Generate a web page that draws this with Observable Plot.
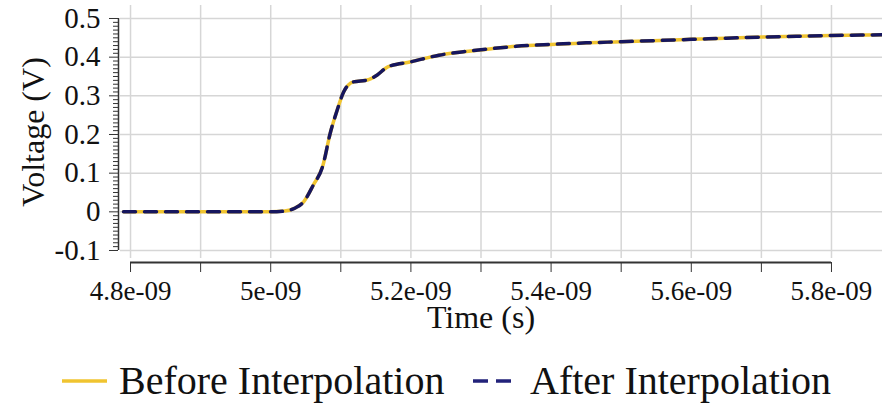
<!DOCTYPE html>
<html><head><meta charset="utf-8">
<script src="https://cdn.jsdelivr.net/npm/d3@7"></script>
<script src="https://cdn.jsdelivr.net/npm/@observablehq/plot@0.6"></script>
<style>
body{margin:0;background:#fff;font-family:"Liberation Serif","Tinos","Times New Roman","Times","DejaVu Serif","Noto Serif",serif;color:#111;}
#chart{width:882px;height:345px;}
#legend{width:882px;height:65px;position:relative;font-size:40px;}
.item{position:absolute;top:12px;display:flex;align-items:center;white-space:nowrap;}
.item svg{margin-right:12px;}
</style></head><body>
<div id="chart"></div>
<div id="legend"></div>
<script>
// Series (time in seconds, voltage in volts)
const timeAfter = [4.79e-9, 4.85e-9, 4.90e-9, 4.95e-9, 5.00e-9, 5.02e-9, 5.035e-9, 5.047e-9, 5.061e-9, 5.074e-9, 5.085e-9, 5.095e-9, 5.104e-9, 5.118e-9, 5.138e-9, 5.152e-9, 5.167e-9, 5.20e-9, 5.24e-9, 5.275e-9, 5.315e-9, 5.35e-9, 5.40e-9, 5.45e-9, 5.50e-9, 5.55e-9, 5.60e-9, 5.65e-9, 5.70e-9, 5.75e-9, 5.80e-9, 5.875e-9];
const voltAfter = [0, 0, 0, 0, 0, 0.002, 0.01, 0.026, 0.07, 0.117, 0.204, 0.264, 0.31, 0.336, 0.341, 0.354, 0.375, 0.388, 0.405, 0.414, 0.422, 0.428, 0.433, 0.437, 0.440, 0.443, 0.446, 0.449, 0.452, 0.454, 0.456, 0.458];
const timeBefore = [4.79e-9, 4.90e-9, 5.00e-9, 5.02e-9, 5.035e-9, 5.047e-9, 5.061e-9, 5.074e-9, 5.085e-9, 5.095e-9, 5.104e-9, 5.118e-9, 5.138e-9, 5.152e-9, 5.167e-9, 5.20e-9, 5.24e-9, 5.275e-9, 5.315e-9, 5.35e-9, 5.40e-9, 5.50e-9, 5.60e-9, 5.70e-9, 5.80e-9, 5.875e-9];
const voltBefore = [0, 0, 0, 0.002, 0.01, 0.026, 0.07, 0.117, 0.204, 0.264, 0.31, 0.336, 0.341, 0.354, 0.375, 0.388, 0.405, 0.414, 0.422, 0.428, 0.433, 0.440, 0.446, 0.452, 0.456, 0.458];

// Ticks and labels
const xTickValues = [4.8e-9, 5.0e-9, 5.2e-9, 5.4e-9, 5.6e-9, 5.8e-9];
const xTickLabels = ["4.8e-09", "5e-09", "5.2e-09", "5.4e-09", "5.6e-09", "5.8e-09"];
const xMinorValues = [4.9e-9, 5.1e-9, 5.3e-9, 5.5e-9, 5.7e-9];
const yTickValues = [-0.1, 0, 0.1, 0.2, 0.3, 0.4, 0.5];
const yTickLabels = ["-0.1", "0", "0.1", "0.2", "0.3", "0.4", "0.5"];
const seriesNames = ["Before Interpolation", "After Interpolation"];
const xTitle = "Time (s)";
const yTitle = "Voltage (V)";

const before = timeBefore.map((t, i) => ({t, v: voltBefore[i]}));
const after = timeAfter.map((t, i) => ({t, v: voltAfter[i]}));
const xTicks = xTickValues.map((v, i) => ({v, label: xTickLabels[i]}));
const yTicks = yTickValues.map((v, i) => ({v, label: yTickLabels[i]}));
const yMinor = d3.range(-10, 51).filter(k => k % 10 !== 0).map(k => k / 100);
const xGrid = [...xTickValues, ...xMinorValues];

const serif = "'Liberation Serif','Tinos','Times New Roman','Times','DejaVu Serif','Noto Serif',serif";
const axisColor = "#333";
const gridColor = "#d6d6d6";
const beforeColor = "#f0c430";
const afterColor = "#16165e";
const xDom = [4.7857e-9, 5.8728e-9];
const yDom = [-0.1207, 0.5336];

const chart = Plot.plot({
  width: 882, height: 345,
  marginLeft: 120, marginRight: 0, marginTop: 5, marginBottom: 87,
  style: {fontFamily: serif, color: "#111", background: "#fff"},
  x: {type: "linear", domain: xDom, axis: null},
  y: {domain: yDom, axis: null},
  marks: [
    Plot.gridX(xGrid, {stroke: gridColor, strokeOpacity: 1, strokeWidth: 1.5}),
    Plot.gridY(yTickValues, {stroke: gridColor, strokeOpacity: 1, strokeWidth: 1.5}),
    Plot.line(before, {x: "t", y: "v", stroke: beforeColor, strokeWidth: 3.5, curve: "monotone-x"}),
    Plot.line(after, {x: "t", y: "v", stroke: afterColor, strokeWidth: 3.5, strokeDasharray: "12,9", curve: "monotone-x"}),
    Plot.ruleX([xDom[0]], {y1: yTickValues[0], y2: yTickValues[yTickValues.length - 1], dx: -2, stroke: axisColor, strokeWidth: 1.5}),
    Plot.ruleY([yDom[0]], {x1: xTickValues[0], x2: xTickValues[xTickValues.length - 1], dy: 4, stroke: axisColor, strokeWidth: 2}),
    Plot.axisY(yMinor, {anchor: "left", tickSize: 5, dx: -2, fill: "none", label: null, stroke: axisColor}),
    Plot.axisY(yTickValues, {anchor: "left", tickSize: 9, dx: -2, fill: "none", label: null, stroke: axisColor}),
    Plot.axisX(xMinorValues, {anchor: "bottom", tickSize: 10, dy: 4, fill: "none", label: null, stroke: axisColor}),
    Plot.axisX(xTickValues, {anchor: "bottom", tickSize: 10, dy: 4, fill: "none", label: null, stroke: axisColor}),
    Plot.text(yTicks, {y: "v", text: "label", frameAnchor: "left", textAnchor: "end", dx: -20, fontSize: 29, fill: "#111"}),
    Plot.text(xTicks, {x: "v", text: "label", frameAnchor: "bottom", lineAnchor: "middle", dy: 33, fontSize: 27, fill: "#111"}),
    Plot.text([yTitle], {frameAnchor: "left", textAnchor: "middle", lineAnchor: "middle", rotate: -90, dx: -87, fontSize: 32, fill: "#111"}),
    Plot.text([{label: xTitle, t: (xTickValues[0] + xTickValues[xTickValues.length - 1]) / 2}], {x: "t", text: "label", frameAnchor: "bottom", lineAnchor: "middle", dy: 59, fontSize: 32, fill: "#111"})
  ]
});
document.getElementById("chart").appendChild(chart);

// Legend
const legend = document.getElementById("legend");
const items = [
  {name: seriesNames[0], color: beforeColor, dash: null, left: 62},
  {name: seriesNames[1], color: "#22227a", dash: "15,8", left: 473}
];
for (const it of items) {
  const div = document.createElement("div");
  div.className = "item";
  div.style.left = it.left + "px";
  const svg = d3.create("svg").attr("width", 45).attr("height", 10);
  svg.append("line").attr("x1", 0).attr("x2", 45).attr("y1", 5).attr("y2", 5)
    .attr("stroke", it.color).attr("stroke-width", 3.5)
    .attr("stroke-dasharray", it.dash);
  div.appendChild(svg.node());
  const span = document.createElement("span");
  span.textContent = it.name;
  div.appendChild(span);
  legend.appendChild(div);
}
</script>
</body></html>
